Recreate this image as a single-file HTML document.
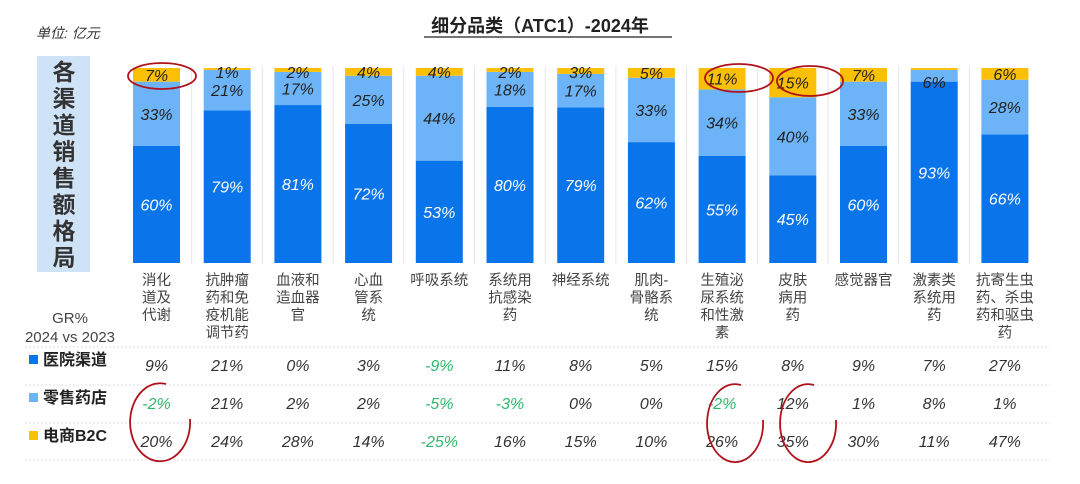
<!DOCTYPE html>
<html><head><meta charset="utf-8">
<style>
html,body{margin:0;padding:0;background:#fff;}
svg{display:block;font-family:"Liberation Sans","Noto Sans CJK SC",sans-serif;}
</style></head>
<body>
<svg id="chart" width="1080" height="484" viewBox="0 0 1080 484">
  <text x="36" y="38" font-size="14" font-style="italic" fill="#333">单位: 亿元</text>
  <text x="540" y="32" font-size="18" font-weight="bold" fill="#222" text-anchor="middle">细分品类（ATC1）-2024年</text>
  <line x1="424" y1="37" x2="672" y2="37" stroke="#222" stroke-width="1.2"/>
  <rect x="37" y="56" width="53" height="216" fill="#cfe3f7"/>
  <g id="sideText"></g>
  <g id="bars"></g>
  <g id="cats"></g>
  <text x="70" y="323" font-size="15" fill="#444" text-anchor="middle">GR%</text>
  <text x="70" y="342" font-size="15" fill="#444" text-anchor="middle">2024 vs 2023</text>
  <g id="table"></g>
  <g id="circles"></g>
</svg>
<script>
const categories = [["消化","道及","代谢"],["抗肿瘤","药和免","疫机能","调节药"],["血液和","造血器","官"],["心血","管系","统"],["呼吸系统"],["系统用","抗感染","药"],["神经系统"],["肌肉-","骨骼系","统"],["生殖泌","尿系统","和性激","素"],["皮肤","病用","药"],["感觉器官"],["激素类","系统用","药"],["抗寄生虫","药、杀虫","药和驱虫","药"]];
const hospitalShare = [60,79,81,72,53,80,79,62,55,45,60,93,66];
const retailShare = [33,21,17,25,44,18,17,33,34,40,33,6,28];
const ecomShare = [7,1,2,4,4,2,3,5,11,15,7,1,6];
const ecomLabel = ["7%","1%","2%","4%","4%","2%","3%","5%","11%","15%","7%","","6%"];
const grHospital = [9,21,0,3,-9,11,8,5,15,8,9,7,27];
const grRetail = [-2,21,2,2,-5,-3,0,0,-2,12,1,8,1];
const grEcom = [20,24,28,14,-25,16,15,10,26,35,30,11,47];
const seriesNames = ["医院渠道","零售药店","电商B2C"];
const seriesColors = ["#0a74ea","#6cb4f7","#fbc005"];

const NS="http://www.w3.org/2000/svg";
function mk(tag,attrs,parent){const e=document.createElementNS(NS,tag);for(const k in attrs)e.setAttribute(k,attrs[k]);parent.appendChild(e);return e;}
const x0=133, step=70.7, bw=47, yTop=68, yBot=263;
function xc(i){return x0+i*step+bw/2;}
function yv(v){return yBot-(yBot-yTop)*v/100;}

const side=document.getElementById('sideText');
"各渠道销售额格局".split("").forEach((c,i)=>{
  const t=mk('text',{x:64,y:80+i*26.5,'font-size':23,'font-weight':'bold',fill:'#333','text-anchor':'middle'},side);
  
  
  t.textContent=c;
});

const bars=document.getElementById('bars');
const cats=document.getElementById('cats');
for(let i=0;i<categories.length;i++){
  if(i>0){const s=mk('line',{x1:x0+i*step-12,x2:x0+i*step-12,y1:66,y2:264,stroke:'#e6e6e6','stroke-width':1},bars);
  
  }
  const tot=hospitalShare[i]+retailShare[i]+ecomShare[i];
  const vals=[hospitalShare[i],retailShare[i],ecomShare[i]].map(v=>v*100/tot);
  let cum=0;
  const labels=[hospitalShare[i]+"%",retailShare[i]+"%",ecomLabel[i]];
  vals.forEach((v,s)=>{
    const ya=yv(cum+v), yb=yv(cum);
    const r=mk('rect',{x:x0+i*step,y:ya,width:bw,height:yb-ya,fill:seriesColors[s]},bars);
    
    
    if(labels[s]){
      let ly=(ya+yb)/2+6;
      if(s===2) ly=Math.max(ly,yTop+10);
      if(s===1 && vals[2]<4.5 && v<25) ly=Math.max(ly, yv(cum+v)+18);
      const t=mk('text',{x:xc(i),y:ly,'font-size':16,'font-style':'italic','text-anchor':'middle',fill:s===0?'#fff':'#222'},bars);
      
      
      t.textContent=labels[s];
    }
    cum+=v;
  });
  categories[i].forEach((ln,k)=>{
    const t=mk('text',{x:xc(i),y:285+k*17.5,'font-size':14.5,fill:'#444','text-anchor':'middle'},cats);
    
    
    t.textContent=ln;
  });
}

const tbl=document.getElementById('table');
const rowsY=[366,404,442];
[347,385,423,460].forEach(y=>{
  const l=mk('line',{x1:25,x2:1050,y1:y,y2:y,stroke:'#dcdcdc','stroke-width':1,'stroke-dasharray':'2,2'},tbl);
  
  
});
[grHospital,grRetail,grEcom].forEach((arr,r)=>{
  const sq=mk('rect',{x:29,y:rowsY[r]-11,width:9,height:9,fill:seriesColors[r]},tbl);
  
  
  const nm=mk('text',{x:43,y:rowsY[r]-1,'font-size':16,'font-weight':'bold',fill:'#222'},tbl);
  
  
  nm.textContent=seriesNames[r];
  arr.forEach((v,i)=>{
    const t=mk('text',{x:xc(i),y:rowsY[r]+5,'font-size':16,'font-style':'italic','text-anchor':'middle',fill:v<0?'#2eb86b':'#333'},tbl);
    
    
    t.textContent=v+"%";
  });
});

const circ=document.getElementById('circles');
[[162,76,34,13],[739,78,34,14],[810,81,33,15]].forEach(c=>{
  const e=mk('ellipse',{cx:c[0],cy:c[1],rx:c[2],ry:c[3],fill:'none',stroke:'#b0121b','stroke-width':1.8},circ);
  
  
});
[[160,423,30,39],[735,424,28,39],[808,424,28,39]].forEach(c=>{
  const [cx,cy,rx,ry]=c;
  const d=`M ${cx+6} ${cy-ry} A ${rx} ${ry} 0 1 0 ${cx+rx} ${cy-4}`;
  const e=mk('path',{d:d,fill:'none',stroke:'#b0121b','stroke-width':1.8},circ);
  
  
});
</script>
</body></html>
